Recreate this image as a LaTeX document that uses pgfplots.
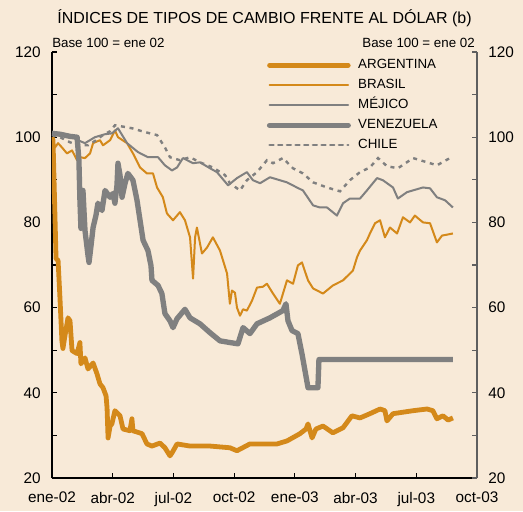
\documentclass[border=0pt]{standalone}
\usepackage{fontspec}
\setmainfont{Liberation Sans}
\usepackage{pgfplots}
\pgfplotsset{compat=1.18}
\definecolor{bg}{RGB}{248,234,216}
\definecolor{orng}{RGB}{212,137,26}
\definecolor{gry}{RGB}{128,128,128}
\definecolor{axgry}{RGB}{95,95,95}
\begin{document}
\begin{tikzpicture}
\fill[bg, use as bounding box] (-39pt,-24.75pt) rectangle (353.25pt,358.5pt);
\begin{axis}[
  name=ax, scale only axis, width=318.75pt, height=319.5pt,
  xmin=0, xmax=21, ymin=20, ymax=120,
  axis x line*=bottom, axis y line*=left,
  axis line style={black, line width=0.8pt, -},
  xtick={0,3,...,21},
  xticklabels={ene-02,abr-02,jul-02,oct-02,ene-03,abr-03,jul-03,oct-03},
  ytick={20,40,...,120}, minor ytick={30,50,...,110},
  tick align=inside, major tick length=4pt, minor tick length=4pt,
  tick style={black, line width=0.8pt},
  ticklabel style={font=\fontsize{11.5}{13}\selectfont},
  /pgf/number format/assume math mode=true,
  xticklabel style={yshift=-7pt},
  yticklabel style={xshift=-5pt},
  legend style={draw=none, fill=none, at={(0.505,0.989)}, anchor=north west,
    font=\fontsize{10}{12}\selectfont, row sep=2.5pt, inner sep=0pt,
    nodes={inner sep=1.5pt, text height=7.5pt, text depth=2pt},
    /tikz/every odd column/.append style={column sep=4pt}},
  legend cell align=left,
  legend image code/.code={\draw[#1, line cap=round] (0pt,0pt) -- (59pt,0pt);},
]
% ARGENTINA
\addplot[orng, line width=3.6pt, line join=round] coordinates {
(0,100) (0.05,99.3) (0.2,71.5) (0.3,71.1) (0.4,61.6) (0.49,52.2) (0.54,50.4)
(0.64,53.4) (0.79,57.6) (0.89,56.9) (0.99,49.9) (1.24,49.2) (1.38,51.8) (1.43,46.8)
(1.63,48.2) (1.78,45.6) (2.03,47.0) (2.22,44.5) (2.37,42.1) (2.52,41.2) (2.67,39.3)
(2.72,36.5) (2.77,29.4) (2.87,32.2) (2.96,32.7) (3.11,35.8) (3.36,34.6) (3.51,31.5)
(3.85,31.1) (3.95,33.9) (4.00,31.1) (4.45,30.4) (4.69,28.0) (4.94,27.5) (5.34,28.2)
(5.58,27.1) (5.83,25.2) (5.93,25.9) (6.18,28.0) (6.82,27.5) (7.81,27.5) (8.79,27.1)
(9.14,26.4) (9.78,28.0) (11.12,28.0) (11.61,28.7) (12.25,30.4) (12.55,31.5) (12.65,32.7)
(12.85,29.4) (13.04,31.5) (13.39,32.2) (13.88,30.6) (14.38,31.8) (14.82,34.6) (15.22,34.1)
(15.71,35.1) (16.21,36.2) (16.45,35.8) (16.55,33.4) (16.85,35.1) (17.84,35.8) (18.53,36.2)
(18.82,35.8) (19.02,33.9) (19.32,34.6) (19.57,33.6) (19.81,34.1)
};
\addlegendentry{ARGENTINA}
% BRASIL
\addplot[orng, line width=1.5pt, line join=round] coordinates {
(0,100) (0.15,97.6) (0.30,98.6) (0.49,97.6) (0.74,96.2) (0.99,96.9) (1.24,94.6)
(1.38,95.3) (1.63,95.1) (1.88,96.2) (2.03,98.6) (2.37,99.3) (2.52,98.1) (2.87,99.3)
(3.11,101.6) (3.26,100.0) (3.71,98.6) (4.00,96.2) (4.35,92.9) (4.69,91.5) (4.99,91.5)
(5.19,88.2) (5.48,85.9) (5.68,82.1) (5.98,80.5) (6.32,82.4) (6.57,80.5) (6.82,76.5)
(6.97,66.8) (7.07,76.5) (7.16,78.8) (7.41,72.7) (7.66,74.1) (7.95,76.5) (8.30,73.4)
(8.65,68.0) (8.79,60.9) (8.89,64.0) (9.04,63.5) (9.14,60.0) (9.29,58.1) (9.44,59.6)
(9.63,59.3) (9.88,61.6) (10.13,64.7) (10.42,64.9) (10.62,65.6) (10.92,63.3) (11.26,60.9)
(11.61,66.4) (11.91,65.6) (12.15,69.9) (12.35,70.6) (12.55,67.8) (12.65,66.4) (12.90,64.5)
(13.39,63.3) (13.88,65.2) (14.38,66.4) (14.87,68.7) (15.07,71.8)
(15.22,73.4) (15.56,75.8) (15.71,77.4) (15.96,79.8) (16.21,80.5) (16.45,76.5) (16.70,78.8)
(17.05,77.4) (17.34,81.2) (17.69,80.0) (17.93,81.6) (18.33,80.0) (18.68,79.8) (19.02,75.3)
(19.27,76.9) (19.81,77.4)
};
\addlegendentry{BRASIL}
% MEJICO
\addplot[gry, line width=1.5pt, line join=round] coordinates {
(0,100.9) (0.40,100.7) (0.89,100.5) (1.28,99.3) (1.63,98.6) (2.12,100.0) (2.62,100.7)
(2.96,100.9) (3.26,102.1) (3.71,98.6) (4.25,96.5) (4.74,95.3) (5.24,95.3) (5.58,93.4)
(5.93,92.2) (6.18,92.9) (6.47,95.1) (6.97,93.9) (7.31,94.1) (7.81,92.7) (8.15,91.8)
(8.70,88.7) (9.14,90.4) (9.63,91.8) (9.93,89.9) (10.28,89.2) (10.77,90.6) (11.61,89.4)
(12.10,88.2) (12.40,87.5) (12.90,84.0) (13.24,83.5) (13.59,83.5) (14.08,81.6) (14.38,84.5)
(14.72,85.6) (15.22,85.6) (15.56,87.5) (16.06,90.4) (16.35,89.9) (16.85,88.2) (17.09,85.6)
(17.54,87.1) (18.33,88.2) (18.68,88.0) (19.02,85.9) (19.42,85.2) (19.81,83.5)
};
\addlegendentry{MÉJICO}
% VENEZUELA
\addplot[gry, line width=4pt, line join=round] coordinates {
(0,100.9) (0.40,100.7) (0.89,100.2) (1.24,100.0) (1.33,94.6) (1.38,85.2) (1.43,78.6)
(1.53,87.5) (1.63,78.1) (1.78,72.2) (1.83,70.6) (1.93,74.6) (2.03,78.8) (2.17,81.6)
(2.27,84.5) (2.47,82.8) (2.62,87.5) (2.87,85.9) (3.01,86.8) (3.11,84.5) (3.21,88.7)
(3.26,93.9) (3.36,91.1) (3.46,85.9) (3.61,89.2) (3.75,91.5) (4.00,89.9) (4.20,85.2)
(4.35,80.5) (4.50,75.8) (4.74,73.4) (4.89,69.9) (4.94,66.4) (5.24,65.2) (5.43,63.3)
(5.58,58.6) (5.83,56.9) (5.98,55.3) (6.18,57.4) (6.57,59.6) (6.82,57.6) (7.31,56.2)
(7.81,54.1) (8.30,52.2) (8.79,51.8) (9.19,51.5) (9.44,55.3) (9.78,53.9) (10.13,56.2)
(10.77,57.6) (11.41,59.3) (11.56,60.9) (11.66,56.9) (11.86,54.6) (12.15,53.9) (12.35,49.2)
(12.50,45.2) (12.65,41.2) (13.14,41.2) (13.19,47.8) (19.81,47.8)
};
\addlegendentry{VENEZUELA}
% CHILE
\addplot[gry, line width=1.8pt, dash pattern=on 3pt off 3.5pt] coordinates {
(0,100.5) (0.40,100.0) (0.89,98.8) (1.38,98.1) (1.78,98.1) (2.12,99.1) (2.52,100.5)
(2.87,101.4) (3.11,102.8) (3.61,102.4) (3.95,102.1) (4.59,101.2) (5.19,100.5) (5.58,97.6)
(5.83,95.3) (6.32,94.6) (6.82,95.3) (7.31,94.1) (7.95,92.9) (8.55,91.1) (8.79,89.2)
(9.29,87.5) (9.63,89.9) (10.13,91.8) (10.62,94.6) (10.92,93.9) (11.41,95.1) (11.91,92.7)
(12.40,91.5) (12.90,89.4) (13.59,88.2) (14.23,87.3) (14.72,89.9) (15.22,91.8) (15.71,92.9)
(16.11,95.1) (16.55,93.2) (17.09,92.7) (17.84,95.1) (18.68,93.9) (19.02,93.4) (19.66,95.1)
};
\addlegendentry{CHILE}
\end{axis}
\begin{axis}[
  scale only axis, width=318.75pt, height=319.5pt,
  xmin=0, xmax=21, ymin=20, ymax=120,
  axis x line=none, axis y line*=right,
  axis line style={axgry, line width=0.8pt, -},
  ytick={20,40,...,120}, minor ytick={30,50,...,110},
  tick align=inside, major tick length=4pt, minor tick length=4pt,
  tick style={axgry, line width=0.8pt},
  ticklabel style={font=\fontsize{11.5}{13}\selectfont},
  /pgf/number format/assume math mode=true,
  yticklabel style={xshift=5pt},
]
\end{axis}
\node[font=\fontsize{12}{14}\selectfont] at ([yshift=25.5pt]ax.north) {ÍNDICES DE TIPOS DE CAMBIO FRENTE AL DÓLAR (b)};
\node[font=\fontsize{10}{12}\selectfont, anchor=base west, inner sep=0pt] at ([yshift=3pt]ax.north west) {Base 100 = ene 02};
\node[font=\fontsize{10}{12}\selectfont, anchor=base east, inner sep=0pt] at ([xshift=-1.5pt,yshift=3pt]ax.north east) {Base 100 = ene 02};
\end{tikzpicture}
\end{document}
